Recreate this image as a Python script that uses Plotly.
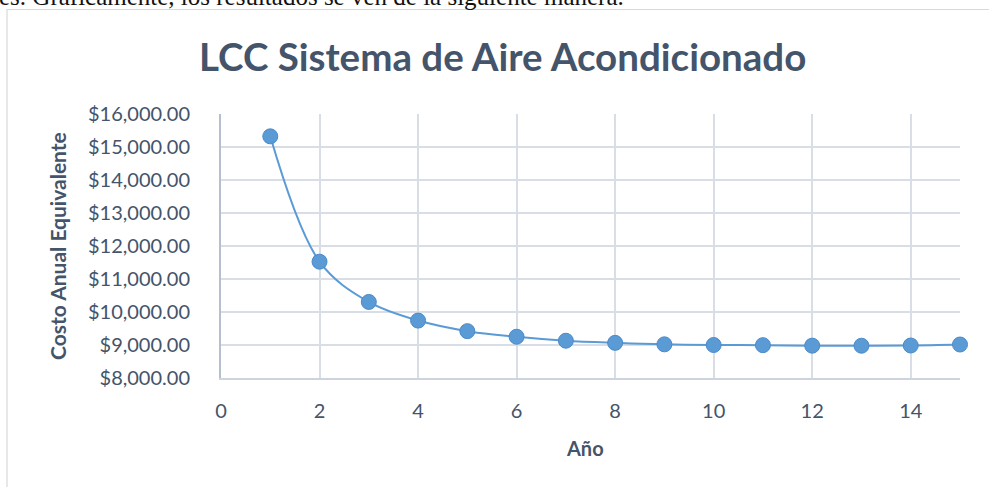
import plotly.graph_objects as go

# Equivalent annual cost of the air-conditioning system per year of service
anios = [1, 2, 3, 4, 5, 6, 7, 8, 9, 10, 11, 12, 13, 14, 15]
costo_anual = [15323, 11525, 10305, 9740, 9420, 9250, 9130, 9065,
               9020, 9000, 8995, 8980, 8978, 8985, 9015]

y_ticks = [8000, 9000, 10000, 11000, 12000, 13000, 14000, 15000, 16000]
y_tick_text = ["$%s.00" % format(v, ",") for v in y_ticks]
x_ticks = [0, 2, 4, 6, 8, 10, 12, 14]

W, H = 989, 487
ML, MR, MT, MB = 221, 29, 114, 109
PW, PH = W - ML - MR, H - MT - MB

TXT = "#44546A"
GRID = "#D9DEE6"
BLUE = "#5B9BD5"
FONT = "Lato, Carlito, Calibri, sans-serif"


def px_x(p):
    return (p - ML) / PW


def px_y(p):
    return (H - MB - p) / PH


fig = go.Figure()
fig.add_trace(go.Scatter(
    x=anios, y=costo_anual, mode="lines+markers",
    line=dict(color=BLUE, width=2, shape="spline", smoothing=1.0),
    marker=dict(size=15, color=BLUE,
                line=dict(color="#4A8ACB", width=1)),
    showlegend=False, cliponaxis=False,
))

fig.update_layout(
    width=W, height=H,
    margin=dict(l=ML, r=MR, t=MT, b=MB),
    paper_bgcolor="white", plot_bgcolor="white",
    font=dict(family=FONT, color=TXT, size=20),
    xaxis=dict(range=[0, 15], tickvals=x_ticks, showgrid=True,
               gridcolor=GRID, gridwidth=1.5, zeroline=False,
               showline=True, linecolor="#CDD4DE", linewidth=1.5,
               ticks="outside", ticklen=14, tickcolor="rgba(0,0,0,0)",
               tickfont=dict(size=20, color=TXT)),
    yaxis=dict(range=[8000, 16000], tickvals=y_ticks, ticktext=y_tick_text,
               showgrid=True, gridcolor=GRID, gridwidth=1.5, zeroline=False,
               showline=True, linecolor="#B4C0D0", linewidth=2,
               ticks="outside", ticklen=25, tickcolor="rgba(0,0,0,0)",
               tickfont=dict(size=20, color=TXT)),
)

# outline of the chart frame
fig.add_shape(type="rect", xref="paper", yref="paper",
              x0=px_x(7), x1=px_x(1000), y0=px_y(500), y1=px_y(9.5),
              line=dict(color="#D9D9D9", width=1.2), fillcolor="rgba(0,0,0,0)",
              layer="below")

# surrounding document sentence
fig.add_annotation(xref="paper", yref="paper", x=px_x(-3), y=px_y(12),
                   xanchor="left", yanchor="bottom", showarrow=False,
                   text="es. Gráficamente, los resultados se ven de la siguiente manera.",
                   font=dict(family="Liberation Serif, serif", size=25, color="#111111"))

# chart title
fig.add_annotation(xref="paper", yref="paper", x=px_x(502), y=px_y(56),
                   xanchor="center", yanchor="middle", showarrow=False,
                   text="<b>LCC Sistema de Aire Acondicionado</b>",
                   font=dict(family=FONT, size=38.5, color=TXT))

# axis titles
fig.add_annotation(xref="paper", yref="paper", x=px_x(585), y=px_y(448),
                   xanchor="center", yanchor="middle", showarrow=False,
                   text="<b>Año</b>", font=dict(family=FONT, size=20, color=TXT))
fig.add_annotation(xref="paper", yref="paper", x=px_x(57), y=px_y(246),
                   xanchor="center", yanchor="middle", showarrow=False,
                   textangle=-90, text="<b>Costo Anual Equivalente</b>",
                   font=dict(family=FONT, size=21, color=TXT))

fig.write_html("out.html")
